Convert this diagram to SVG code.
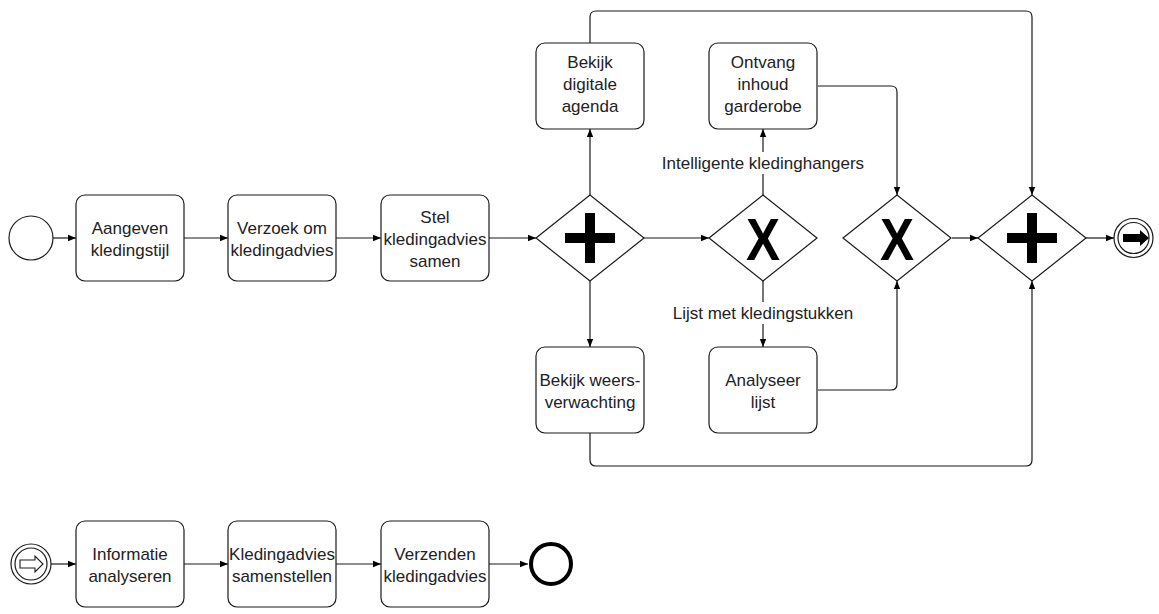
<svg xmlns="http://www.w3.org/2000/svg" width="1159" height="614" viewBox="0 0 1159 614">
  <defs>
    <marker id="arrow" viewBox="0 0 10 10" refX="10" refY="5" markerWidth="8" markerHeight="8" markerUnits="userSpaceOnUse" orient="auto">
      <path d="M0,1 L10,5 L0,9 Z" fill="#000"/>
    </marker>
    <style>
      .task { fill: #fff; stroke: #1a1a1a; stroke-width: 1.2; }
      .gw { fill: #fff; stroke: #1a1a1a; stroke-width: 1.2; }
      .ev { fill: #fff; stroke: #1a1a1a; stroke-width: 1.2; }
      .lbl { font-family: "Liberation Sans", Arial, sans-serif; font-size: 17px; fill: #222; text-anchor: middle; }
      .flow { fill: none; stroke: #1a1a1a; stroke-width: 1.2; marker-end: url(#arrow); }
      .mark { font-family: "Liberation Sans", Arial, sans-serif; font-weight: bold; font-size: 60px; fill: #000; text-anchor: middle; }
    </style>
  </defs>
  <rect width="1159" height="614" fill="#fff"/>

  <!-- connectors -->
  <g id="connectors">
    <path class="flow" d="M53,238 H76"/>
    <path class="flow" d="M184,238 H228"/>
    <path class="flow" d="M336,238 H381"/>
    <path class="flow" d="M489,238 H536"/>
    <path class="flow" d="M644,238 H709"/>
    <path class="flow" d="M590,195 V129"/>
    <path class="flow" d="M590,281 V347"/>
    <path class="flow" d="M763,195 V129"/>
    <path class="flow" d="M763,281 V347"/>
    <path class="flow" d="M818,86 H891 Q897,86 897,92 V195"/>
    <path class="flow" d="M818,390 H891 Q897,390 897,384 V281"/>
    <path class="flow" d="M952,238 H978"/>
    <path class="flow" d="M590,43 V17 Q590,11 596,11 H1026 Q1032,11 1032,17 V195"/>
    <path class="flow" d="M590,433 V460 Q590,466 596,466 H1026 Q1032,466 1032,460 V281"/>
    <path class="flow" d="M1086,238 H1114"/>
    <path class="flow" d="M51,564 H76"/>
    <path class="flow" d="M184,564 H228"/>
    <path class="flow" d="M336,564 H381"/>
    <path class="flow" d="M489,564 H528"/>
    <!-- flow labels -->
    <rect x="660" y="152" width="206" height="22" fill="#fff"/>
    <text class="lbl" x="763" y="169">Intelligente kledinghangers</text>
    <rect x="665" y="302" width="196" height="22" fill="#fff"/>
    <text class="lbl" x="763" y="319">Lijst met kledingstukken</text>
  </g>

  <!-- upper process -->
  <g id="start1">
    <circle class="ev" cx="31" cy="238" r="22"/>
  </g>
  <g id="task-aangeven">
    <rect class="task" x="76" y="195" width="108" height="86" rx="9"/>
    <text class="lbl" x="130" y="234">Aangeven</text>
    <text class="lbl" x="130" y="256">kledingstijl</text>
  </g>
  <g id="task-verzoek">
    <rect class="task" x="228" y="195" width="108" height="86" rx="9"/>
    <text class="lbl" x="282" y="234">Verzoek om</text>
    <text class="lbl" x="282" y="256">kledingadvies</text>
  </g>
  <g id="task-stel">
    <rect class="task" x="381" y="195" width="108" height="86" rx="9"/>
    <text class="lbl" x="435" y="223">Stel</text>
    <text class="lbl" x="435" y="245">kledingadvies</text>
    <text class="lbl" x="435" y="267">samen</text>
  </g>
  <g id="gw-split">
    <polygon class="gw" points="536,238 590,195 644,238 590,281"/>
    <rect x="565" y="233" width="50" height="10" fill="#000"/>
    <rect x="585" y="213" width="10" height="50" fill="#000"/>
  </g>
  <g id="task-agenda">
    <rect class="task" x="536" y="43" width="108" height="86" rx="9"/>
    <text class="lbl" x="590" y="68">Bekijk</text>
    <text class="lbl" x="590" y="90">digitale</text>
    <text class="lbl" x="590" y="112">agenda</text>
  </g>
  <g id="task-weer">
    <rect class="task" x="536" y="347" width="108" height="86" rx="9"/>
    <text class="lbl" x="590" y="386">Bekijk weers-</text>
    <text class="lbl" x="590" y="408">verwachting</text>
  </g>
  <g id="gw-xor-split">
    <polygon class="gw" points="709,238 763,195 817,238 763,281"/>
    <text class="mark" x="763" y="260" transform="translate(763 0) scale(0.85 1) translate(-763 0)">X</text>
  </g>
  <g id="task-ontvang">
    <rect class="task" x="709" y="43" width="108" height="86" rx="9"/>
    <text class="lbl" x="763" y="68">Ontvang</text>
    <text class="lbl" x="763" y="90">inhoud</text>
    <text class="lbl" x="763" y="112">garderobe</text>
  </g>
  <g id="task-analyseer">
    <rect class="task" x="709" y="347" width="108" height="86" rx="9"/>
    <text class="lbl" x="763" y="386">Analyseer</text>
    <text class="lbl" x="763" y="408">lijst</text>
  </g>
  <g id="gw-xor-join">
    <polygon class="gw" points="843,238 897,195 951,238 897,281"/>
    <text class="mark" x="897" y="260" transform="translate(897 0) scale(0.85 1) translate(-897 0)">X</text>
  </g>
  <g id="gw-join">
    <polygon class="gw" points="978,238 1032,195 1086,238 1032,281"/>
    <rect x="1007" y="233" width="50" height="10" fill="#000"/>
    <rect x="1027" y="213" width="10" height="50" fill="#000"/>
  </g>
  <g id="end-message">
    <circle class="ev" cx="1133.5" cy="238" r="19.5"/>
    <circle class="ev" cx="1133.5" cy="238" r="15.5"/>
    <polygon points="1123,234 1140,234 1140,230 1149,238 1140,246 1140,242 1123,242" fill="#000"/>
  </g>

  <!-- lower process -->
  <g id="start-message">
    <circle class="ev" cx="31" cy="564" r="20"/>
    <circle class="ev" cx="31" cy="564" r="16"/>
    <polygon points="20,560 35,560 35,556 43,564 35,572 35,568 20,568" fill="#fff" stroke="#1a1a1a" stroke-width="1.1"/>
  </g>
  <g id="task-informatie">
    <rect class="task" x="76" y="521" width="108" height="86" rx="9"/>
    <text class="lbl" x="130" y="560">Informatie</text>
    <text class="lbl" x="130" y="582">analyseren</text>
  </g>
  <g id="task-samenstellen">
    <rect class="task" x="228" y="521" width="108" height="86" rx="9"/>
    <text class="lbl" x="282" y="560">Kledingadvies</text>
    <text class="lbl" x="282" y="582">samenstellen</text>
  </g>
  <g id="task-verzenden">
    <rect class="task" x="381" y="521" width="108" height="86" rx="9"/>
    <text class="lbl" x="435" y="560">Verzenden</text>
    <text class="lbl" x="435" y="582">kledingadvies</text>
  </g>
  <g id="end2">
    <circle cx="551" cy="564" r="20" fill="#fff" stroke="#000" stroke-width="4"/>
  </g>
</svg>
